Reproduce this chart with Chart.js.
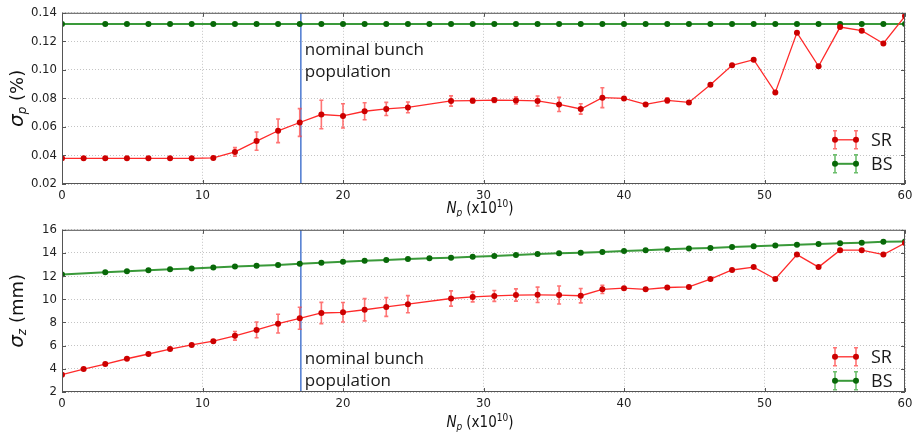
<!DOCTYPE html>
<html>
<head>
<meta charset="UTF-8">
<title>sigma vs Np</title>
<script src="https://cdn.jsdelivr.net/npm/chart.js"></script>
<style>
  body { margin: 0; background: #fff; }
  #wrap { position: relative; width: 917px; height: 435px; }
  canvas { position: absolute; left: 0; }
  #topChart { top: 0; }
  #botChart { top: 217px; }
</style>
</head>
<body>
<div id="wrap">
  <canvas id="topChart" width="917" height="217"></canvas>
  <canvas id="botChart" width="917" height="218"></canvas>
</div>
<script>
// bunch population, x10^10
const np = [0, 1.54, 3.08, 4.62, 6.15, 7.69, 9.23, 10.77, 12.31, 13.85, 15.38, 16.92, 18.46, 20.0,
  21.54, 23.08, 24.62, 26.15, 27.69, 29.23, 30.77, 32.31, 33.85, 35.38, 36.92, 38.46, 40.0,
  41.54, 43.08, 44.62, 46.15, 47.69, 49.23, 50.77, 52.31, 53.85, 55.38, 56.92, 58.46, 60.0];

// energy spread (%)
const spSR = [0.038, 0.038, 0.038, 0.038, 0.038, 0.038, 0.038, 0.0383, 0.0425, 0.0501, 0.0573, 0.0631, 0.0687, 0.0677,
  0.0710, 0.0726, 0.0737, null, 0.0782, 0.0784, 0.0788, 0.0786, 0.0782, 0.0758, 0.0726, 0.0805, 0.0800,
  0.0758, 0.0786, 0.0772, 0.0895, 0.1032, 0.1071, 0.0842, 0.1261, 0.1025, 0.1300, 0.1275, 0.1185, 0.1377];
const spSRerr = [0, 0, 0, 0, 0, 0, 0, 0, 0.003, 0.0064, 0.0083, 0.0097, 0.0100, 0.0085,
  0.006, 0.0046, 0.0038, 0, 0.0036, 0.0016, 0.0017, 0.0025, 0.0035, 0.005, 0.0036, 0.007, 0,
  0, 0.0018, 0, 0, 0, 0, 0, 0, 0, 0, 0, 0, 0];
const spBS = [0.1322, null, 0.1322, 0.1322, 0.1322, 0.1322, 0.1322, 0.1322, 0.1322, 0.1322, 0.1322, 0.1322, 0.1322, 0.1322,
  0.1322, 0.1322, 0.1322, 0.1322, 0.1322, 0.1322, 0.1322, 0.1322, 0.1322, 0.1322, 0.1322, 0.1322, 0.1322,
  0.1322, 0.1322, 0.1322, 0.1322, 0.1322, 0.1322, 0.1322, 0.1322, 0.1322, 0.1322, 0.1322, 0.1322, 0.1322];

// bunch length (mm)
const szSR = [3.49, 3.98, 4.41, 4.87, 5.28, 5.71, 6.06, 6.39, 6.85, 7.36, 7.90, 8.36, 8.82, 8.88,
  9.10, 9.34, 9.58, null, 10.07, 10.21, 10.29, 10.37, 10.39, 10.37, 10.31, 10.86, 10.96,
  10.86, 11.02, 11.07, 11.75, 12.53, 12.78, 11.75, 13.86, 12.78, 14.24, 14.24, 13.86, 14.86];
const szSRerr = [0, 0, 0, 0, 0, 0, 0, 0, 0.37, 0.68, 0.81, 0.95, 0.92, 0.84,
  0.96, 0.81, 0.74, 0, 0.66, 0.43, 0.47, 0.53, 0.66, 0.78, 0.62, 0.36, 0,
  0, 0, 0, 0, 0, 0, 0, 0, 0, 0, 0, 0, 0];
const szBS = [12.15, null, 12.34, 12.43, 12.51, 12.59, 12.67, 12.75, 12.83, 12.89, 12.97, 13.08, 13.16, 13.24,
  13.32, 13.40, 13.48, 13.54, 13.59, 13.67, 13.73, 13.83, 13.91, 13.97, 14.02, 14.08, 14.16,
  14.24, 14.32, 14.38, 14.43, 14.51, 14.59, 14.65, 14.70, 14.78, 14.84, 14.89, 14.97, 15.00];

const nominalNp = 17;
const seriesNames = ['SR', 'BS'];

const RED = '#ff2a2a', RED_PT = '#cc0000', RED_ERR = 'rgba(255,70,70,0.75)';
const GREEN = '#3a9a3a', GREEN_PT = '#086808', GREEN_ERR = 'rgba(60,170,60,0.75)';
const condFam = "'DejaVu Sans Condensed', 'DejaVu Sans'";
const tickFont = { family: condFam, size: 13 };
const textFont = "'Open Sans', 'Noto Sans', sans-serif";

function pts(xs, ys) {
  return xs.map((x, i) => ({ x: x, y: ys[i] }));
}

const plotPlugin = {
  id: 'plotExtras',
  beforeDatasetsDraw(chart) {
    const { ctx, chartArea: a, scales: { x, y } } = chart;
    const cfg = chart.options.plugins.plotExtras;
    // nominal bunch population line
    const xl = x.getPixelForValue(nominalNp);
    ctx.save();
    ctx.strokeStyle = '#4a78d0';
    ctx.lineWidth = 1.5;
    ctx.beginPath();
    ctx.moveTo(xl, a.top);
    ctx.lineTo(xl, a.bottom);
    ctx.stroke();
    // error bars
    ctx.strokeStyle = RED_ERR;
    ctx.lineWidth = 1.6;
    cfg.err.forEach((e, i) => {
      const v = cfg.vals[i];
      if (!e || v == null) return;
      const px = x.getPixelForValue(np[i]);
      const y1 = y.getPixelForValue(v - e), y2 = y.getPixelForValue(v + e);
      ctx.beginPath();
      ctx.moveTo(px, y1); ctx.lineTo(px, y2);
      ctx.moveTo(px - 2, y1); ctx.lineTo(px + 2, y1);
      ctx.moveTo(px - 2, y2); ctx.lineTo(px + 2, y2);
      ctx.stroke();
    });
    ctx.restore();
  },
  afterDraw(chart) {
    const { ctx, chartArea: a, scales: { x, y } } = chart;
    const cfg = chart.options.plugins.plotExtras;
    ctx.save();
    // frame + inside ticks
    ctx.strokeStyle = '#555';
    ctx.lineWidth = 1;
    ctx.strokeRect(a.left + 0.5, a.top + 0.5, a.width - 1, a.height - 1);
    ctx.beginPath();
    x.ticks.forEach(t => {
      const px = Math.round(x.getPixelForValue(t.value)) + 0.5;
      ctx.moveTo(px, a.bottom); ctx.lineTo(px, a.bottom - 4);
      ctx.moveTo(px, a.top); ctx.lineTo(px, a.top + 4);
    });
    y.ticks.forEach(t => {
      const py = Math.round(y.getPixelForValue(t.value)) + 0.5;
      ctx.moveTo(a.left, py); ctx.lineTo(a.left + 4, py);
      ctx.moveTo(a.right, py); ctx.lineTo(a.right - 4, py);
    });
    ctx.stroke();

    // annotation text
    ctx.fillStyle = '#1a1a1a';
    ctx.font = '17px ' + textFont;
    ctx.textAlign = 'left';
    ctx.textBaseline = 'alphabetic';
    const tx = x.getPixelForValue(nominalNp) + 4;
    ctx.fillText('nominal bunch', tx, a.top + cfg.textY);
    ctx.fillText('population', tx, a.top + cfg.textY + 22);

    // legend
    const ents = [[RED, RED_PT, RED_ERR], [GREEN, GREEN_PT, GREEN_ERR]];
    ents.forEach((c, k) => {
      const ly = a.top + cfg.legY + k * 24;
      const x1 = 835, x2 = 856;
      ctx.strokeStyle = c[2];
      ctx.lineWidth = 1.6;
      ctx.beginPath();
      ctx.moveTo(x1, ly - 9); ctx.lineTo(x1, ly + 9);
      ctx.moveTo(x2, ly - 9); ctx.lineTo(x2, ly + 9);
      ctx.moveTo(x1 - 2, ly - 9); ctx.lineTo(x1 + 2, ly - 9);
      ctx.moveTo(x1 - 2, ly + 9); ctx.lineTo(x1 + 2, ly + 9);
      ctx.moveTo(x2 - 2, ly - 9); ctx.lineTo(x2 + 2, ly - 9);
      ctx.moveTo(x2 - 2, ly + 9); ctx.lineTo(x2 + 2, ly + 9);
      ctx.stroke();
      ctx.strokeStyle = c[0];
      ctx.lineWidth = k ? 2 : 1.3;
      ctx.beginPath();
      ctx.moveTo(x1, ly); ctx.lineTo(x2, ly);
      ctx.stroke();
      ctx.fillStyle = c[1];
      [x1, x2].forEach(px => { ctx.beginPath(); ctx.arc(px, ly, 3, 0, Math.PI * 2); ctx.fill(); });
      ctx.fillStyle = '#1a1a1a';
      ctx.font = '18px ' + textFont;
      ctx.textBaseline = 'middle';
      ctx.fillText(seriesNames[k], 871, ly + 1);
    });

    // x title: N_p (x10^10)
    ctx.textBaseline = 'alphabetic';
    ctx.fillStyle = '#111';
    const cx = (a.left + a.right) / 2 - 37;
    const by = a.bottom + cfg.xTitleY;
    ctx.font = 'italic 15px ' + condFam;
    ctx.fillText('N', cx, by);
    let w = ctx.measureText('N').width;
    ctx.font = 'italic 10px ' + condFam;
    ctx.fillText('p', cx + w, by + 3);
    w += ctx.measureText('p').width + 4;
    ctx.font = '15px ' + condFam;
    ctx.fillText('(x10', cx + w, by);
    w += ctx.measureText('(x10').width;
    ctx.font = '10px ' + condFam;
    ctx.fillText('10', cx + w, by - 6);
    w += ctx.measureText('10').width;
    ctx.font = '15px ' + condFam;
    ctx.fillText(')', cx + w, by);

    // y title: sigma_sub (unit)
    ctx.translate(17, (a.top + a.bottom) / 2);
    ctx.rotate(-Math.PI / 2);
    const parts = [['σ', 'italic 20px', 0], [cfg.sub, 'italic 12px', 3], [' ' + cfg.unit, '18px', 0]];
    let tw = 0;
    parts.forEach(p => { ctx.font = p[1] + " 'DejaVu Sans'"; tw += ctx.measureText(p[0]).width; });
    let px = -tw / 2;
    parts.forEach(p => {
      ctx.font = p[1] + " 'DejaVu Sans'";
      ctx.fillText(p[0], px, 6 + p[2]);
      px += ctx.measureText(p[0]).width;
    });
    ctx.restore();
  }
};

function makeChart(id, srVals, srErr, bsVals, yMin, yMax, yStep, dec, xAxisH, padTop, extras) {
  return new Chart(document.getElementById(id), {
    type: 'line',
    data: {
      datasets: [
        { label: 'SR', data: pts(np, srVals), borderColor: RED, borderWidth: 1.3,
          pointBackgroundColor: RED_PT, pointBorderWidth: 0, pointRadius: 3, spanGaps: true, tension: 0 },
        { label: 'BS', data: pts(np, bsVals), borderColor: GREEN, borderWidth: 2,
          pointBackgroundColor: GREEN_PT, pointBorderWidth: 0, pointRadius: 3, spanGaps: true, tension: 0 }
      ]
    },
    options: {
      responsive: false,
      animation: false,
      devicePixelRatio: 1,
      layout: { padding: { top: padTop, right: 12, left: 0, bottom: 0 } },
      plugins: {
        legend: { display: false },
        tooltip: { enabled: false },
        plotExtras: Object.assign({ vals: srVals, err: srErr }, extras)
      },
      scales: {
        x: {
          type: 'linear', min: 0, max: 60,
          ticks: { stepSize: 10, font: tickFont, color: '#222', padding: 4, maxRotation: 0 },
          grid: { color: '#c4c4c4', drawTicks: false },
          border: { display: false, dash: [1, 2] },
          afterFit: s => { s.height = xAxisH; }
        },
        y: {
          min: yMin, max: yMax,
          ticks: { stepSize: yStep, font: tickFont, color: '#222', padding: 5,
            callback: v => v.toFixed(dec) },
          grid: { color: '#c4c4c4', drawTicks: false },
          border: { display: false, dash: [1, 2] },
          afterFit: s => { s.width = 62; }
        }
      }
    },
    plugins: [plotPlugin]
  });
}

makeChart('topChart', spSR, spSRerr, spBS, 0.02, 0.14, 0.02, 2, 33, 11,
  { sub: 'p', unit: '(%)', textY: 42, legY: 127, xTitleY: 29 });
makeChart('botChart', szSR, szSRerr, szBS, 2, 16, 2, 0, 43, 2,
  { sub: 'z', unit: '(mm)', textY: 134, legY: 127, xTitleY: 35 });
</script>
</body>
</html>
